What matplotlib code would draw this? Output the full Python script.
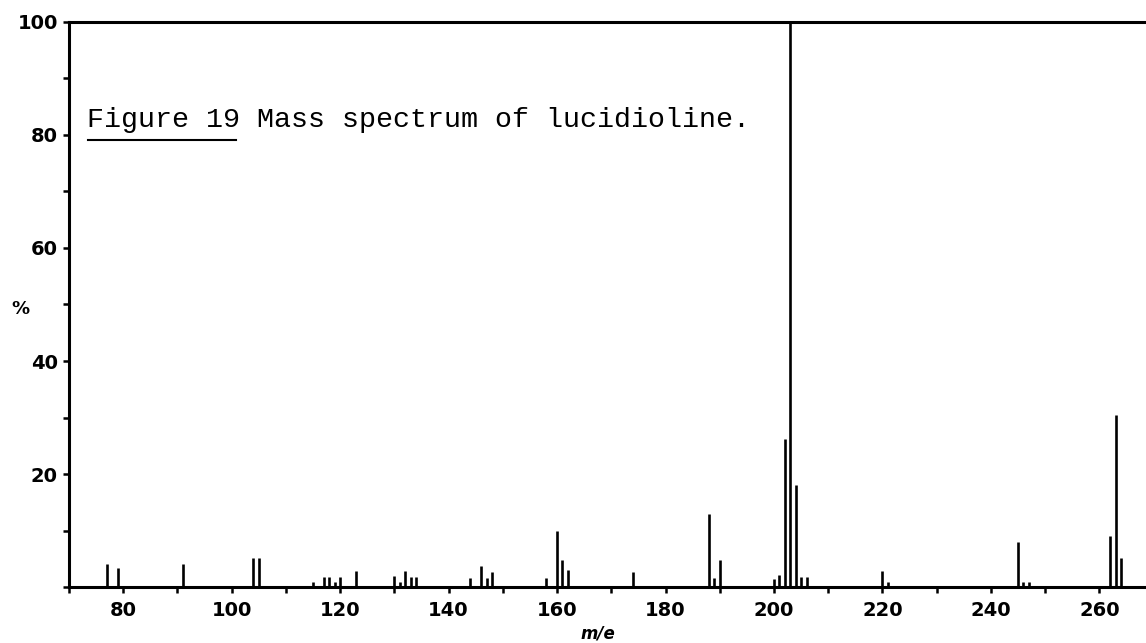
#!/usr/bin/env python3
# Mass spectrum of lucidioline (Figure 19), redrawn as a stick plot.

import matplotlib
matplotlib.use("Agg")
import matplotlib.pyplot as plt
from matplotlib.ticker import MultipleLocator

# m/e values and relative intensities (%)
mz = [77, 79, 91, 104, 105,
      115, 117, 118, 119, 120, 123,
      130, 131, 132, 133, 134,
      144, 146, 147, 148,
      158, 160, 161, 162, 174,
      188, 189, 190,
      200, 201, 202, 203, 204, 205, 206,
      220, 221, 245, 246, 247,
      262, 263, 264]
intensity = [4.2, 3.4, 4.2, 5.1, 5.1,
             1.0, 1.9, 1.9, 1.0, 1.9, 2.8,
             2.0, 1.0, 2.8, 1.9, 1.9,
             1.6, 3.8, 1.6, 2.7,
             1.6, 9.9, 4.9, 3.0, 2.7,
             12.9, 1.6, 4.9,
             1.5, 2.2, 26.3, 100, 18.0, 1.8, 1.8,
             2.8, 1.0, 8.0, 0.9, 0.9,
             9.0, 30.4, 5.2]

x_ticks = [80, 100, 120, 140, 160, 180, 200, 220, 240, 260]
y_ticks = [20, 40, 60, 80, 100]

W, H = 1146, 643
AW, AH = 1077, 565.6  # axes size in pixels
fig = plt.figure(figsize=(W / 100, H / 100), dpi=100)
ax = fig.add_axes([69 / W, 1 - 587.3 / H, AW / W, AH / H])

ax.vlines(mz, 0, intensity, color="black", lw=1.9)

ax.set_xlim(70, 268.6)
ax.set_ylim(0, 100)

for side in ("left", "bottom", "top"):
    ax.spines[side].set_linewidth(2.2)
ax.spines["right"].set_visible(False)

ax.set_xticks(x_ticks)
ax.set_yticks(y_ticks)
ax.xaxis.set_minor_locator(MultipleLocator(10))
ax.yaxis.set_minor_locator(MultipleLocator(10))
ax.tick_params(which="both", direction="out", length=4, width=1.8)
ax.tick_params(axis="x", pad=6)
ax.tick_params(axis="y", pad=4)
for lab in ax.get_xticklabels() + ax.get_yticklabels():
    lab.set_fontsize(14)
    lab.set_fontweight("bold")

ax.set_ylabel("%", rotation=0, fontsize=13, fontweight="bold", va="center")
ax.yaxis.set_label_coords(-(69 - 20) / AW, (587.3 - 309) / AH)
ax.set_xlabel("m/e", fontsize=12, fontweight="bold", style="italic")
ax.xaxis.set_label_coords((598 - 69) / AW, -(624 - 587.3) / AH)

# caption written inside the plot area, with "Figure 19" underlined
ax.text((87 - 69) / AW, (587.3 - 127) / AH,
        "Figure 19 Mass spectrum of lucidioline.",
        transform=ax.transAxes, family="Liberation Mono", fontsize=20.4,
        ha="left", va="baseline")
ax.plot([(88 - 69) / AW, (236 - 69) / AW],
        [(587.3 - 140) / AH] * 2, transform=ax.transAxes,
        color="black", lw=1.5, clip_on=False)

fig.savefig("out.png", dpi=100)
